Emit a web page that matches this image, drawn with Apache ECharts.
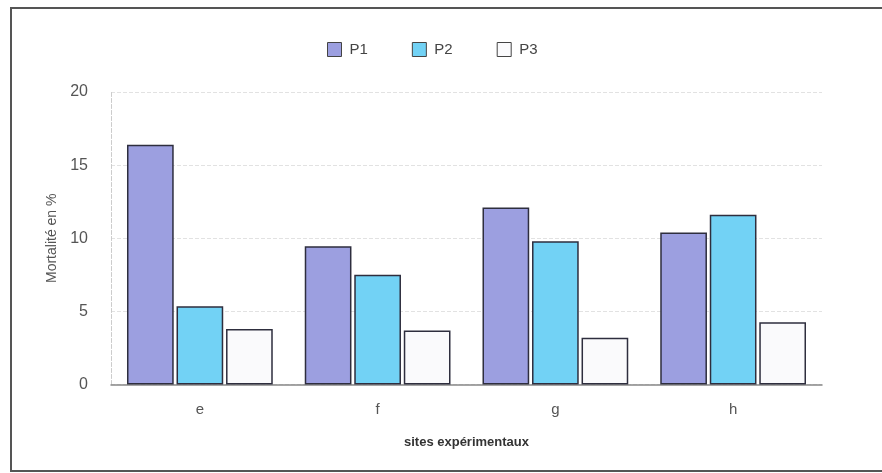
<!DOCTYPE html>
<html><head><meta charset="utf-8">
<script src="https://cdn.jsdelivr.net/npm/echarts@6/dist/echarts.min.js"></script>
<style>html,body{margin:0;padding:0;background:#fff}#c{width:882px;height:473px}</style>
</head><body><div id="c"></div>
<script>
var categories = ['e', 'f', 'g', 'h'];
var seriesNames = ['P1', 'P2', 'P3'];
var p1 = [16.4, 9.45, 12.1, 10.4];
var p2 = [5.35, 7.5, 9.8, 11.6];
var p3 = [3.8, 3.7, 3.2, 4.25];
var yTicks = [0, 5, 10, 15, 20];

var colors = ['#9c9fe0', '#72d2f5', '#fafafc'];
var font = 'Liberation Sans, Arial, sans-serif';
var chart = echarts.init(document.getElementById('c'));
function mk(name, data, i) {
  return {
    name: name, type: 'bar', data: data,
    barGap: '6%', barCategoryGap: '18%',
    itemStyle: { color: colors[i], borderColor: '#2e2e3e', borderWidth: 1.5 }
  };
}
chart.setOption({
  animation: false,
  backgroundColor: '#fff',
  graphic: [{ type: 'rect', shape: { x: 11, y: 8, width: 890, height: 463 },
    style: { fill: 'none', stroke: '#555', lineWidth: 2 } }],
  legend: {
    data: seriesNames, top: 37, left: 322, itemWidth: 14, itemHeight: 14, itemGap: 44,
    icon: 'rect',
    itemStyle: { borderColor: '#444', borderWidth: 1 },
    textStyle: { fontFamily: font, fontSize: 15, color: '#444', padding: [0, 0, 0, 3] }
  },
  grid: { left: 111, right: 60, top: 92, bottom: 88.5 },
  xAxis: {
    type: 'category', data: categories,
    name: 'sites expérimentaux', nameLocation: 'middle', nameGap: 51,
    nameTextStyle: { fontFamily: font, fontSize: 13, fontWeight: 'bold', color: '#333' },
    axisLine: { lineStyle: { color: '#888', width: 1.5 } },
    axisTick: { show: false },
    axisLabel: { fontFamily: font, fontSize: 15, color: '#555', margin: 18 }
  },
  yAxis: {
    type: 'value', min: yTicks[0], max: yTicks[yTicks.length - 1], interval: 5,
    name: 'Mortalité en %', nameLocation: 'middle', nameGap: 47,
    nameTextStyle: { fontFamily: font, fontSize: 14, color: '#555' },
    axisLine: { show: true, lineStyle: { color: '#ccc', type: 'dashed' } },
    axisTick: { show: false },
    axisLabel: { fontFamily: font, fontSize: 16, color: '#555', margin: 23 },
    splitLine: { lineStyle: { color: '#e2e2e2', type: 'dashed' } }
  },
  series: [mk(seriesNames[0], p1, 0), mk(seriesNames[1], p2, 1), mk(seriesNames[2], p3, 2)]
});
</script></body></html>
